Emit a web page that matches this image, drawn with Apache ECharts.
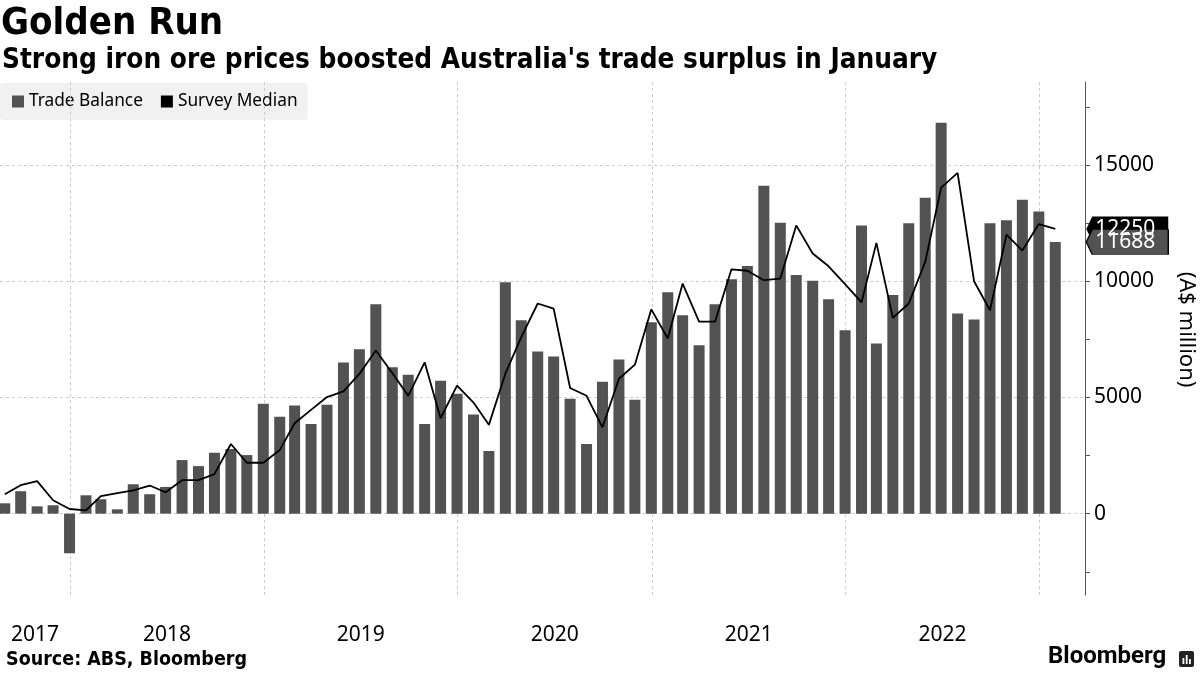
<!DOCTYPE html>
<html><head><meta charset="utf-8">
<script src="https://cdn.jsdelivr.net/npm/echarts@6/dist/echarts.min.js"></script>
<style>html,body{margin:0;padding:0;background:#fff}#c{width:1200px;height:675px}</style>
</head><body><div id="c"></div>
<script>
// Monthly periods (Aug 2017 – Jan 2023)
const months = [
  '2017-08','2017-09','2017-10','2017-11','2017-12',
  '2018-01','2018-02','2018-03','2018-04','2018-05','2018-06','2018-07','2018-08','2018-09','2018-10','2018-11','2018-12',
  '2019-01','2019-02','2019-03','2019-04','2019-05','2019-06','2019-07','2019-08','2019-09','2019-10','2019-11','2019-12',
  '2020-01','2020-02','2020-03','2020-04','2020-05','2020-06','2020-07','2020-08','2020-09','2020-10','2020-11','2020-12',
  '2021-01','2021-02','2021-03','2021-04','2021-05','2021-06','2021-07','2021-08','2021-09','2021-10','2021-11','2021-12',
  '2022-01','2022-02','2022-03','2022-04','2022-05','2022-06','2022-07','2022-08','2022-09','2022-10','2022-11','2022-12',
  '2023-01'
];
const tradeBalance = [
  445, 965, 315, 360, -1705,
  790, 620, 185, 1265, 835, 1150, 2305, 2045, 2620, 2780, 2520, 4725,
  4165, 4650, 3860, 4680, 6500, 7075, 9005, 6300, 5980, 3860, 5720, 5160,
  4265, 2695, 9960, 8315, 6975, 6760, 4940, 2995, 5675, 6630, 4900, 8230,
  9525, 8530, 7240, 9005, 10085, 10655, 14110, 12520, 10270, 10015, 9220, 7895,
  12400, 7320, 9410, 12490, 13590, 16820, 8615, 8355, 12490, 12620, 13505, 13000,
  11688
];
const surveyMedian = [
  835, 1225, 1400, 575, 200,
  145, 750, 880, 1005, 1210, 920, 1440, 1440, 1700, 2995, 2190, 2190,
  2735, 3890, 4465, 5015, 5260, 6010, 7015, 6050, 5070, 6510, 4105, 5505,
  4780, 3820, 6020, 7590, 9040, 8820, 5405, 5070, 3715, 5805, 6410, 8790,
  7535, 9900, 8260, 8260, 10510, 10450, 10045, 10115, 12400, 11190, 10640, 9870,
  9090, 11650, 8420, 9040, 10830, 14025, 14660, 10000, 8750, 12000, 11320, 12460,
  12250
];
const yearLabels = ['2017','2018','2019','2020','2021','2022'];
const yearStarts = ['2018-01-01','2019-01-01','2020-01-01','2021-01-01','2022-01-01','2023-01-01'];
const yLabelValues = [0, 5000, 10000, 15000];
const yTickValues = [-2500, 0, 2500, 5000, 7500, 10000, 12500, 15000, 17500];
const xMinDate = '2017-08-22';
const xMaxDate = '2023-03-28';

function ts(s) {
  const [y, m, d] = s.split('-').map(Number);
  return new Date(y, m - 1, d).getTime();
}
function monthEnd(m) {
  const [y, mo] = m.split('-').map(Number);
  return new Date(y, mo, 0).getTime();
}
const xMin = ts(xMinDate), xMax = ts(xMaxDate);
const times = months.map(monthEnd);
const barData = times.map((t, i) => [t, tradeBalance[i]]);
const lineData = times.map((t, i) => [t, surveyMedian[i]]);
const yearStartTs = yearStarts.map(ts);

// year label positions: middle of the visible part of each year
const yearLabelPos = yearLabels.map(y => {
  const start = Math.max(ts(y + '-01-01'), xMin);
  const end = ts((+y + 1) + '-01-01');
  return (start + end) / 2;
});

const lastT = times[times.length - 1];
const lastTrade = tradeBalance[tradeBalance.length - 1];
const lastSurvey = surveyMedian[surveyMedian.length - 1];

const tagPath = 'path://M0,12.5 L6,0 L82,0 L82,25 L6,25 Z';
const FONT = 'Noto Sans';
const gridColor = '#cccccc';

const chart = echarts.init(document.getElementById('c'), null, {renderer: 'canvas'});
chart.setOption({
  animation: false,
  backgroundColor: '#ffffff',
  grid: {left: 0, right: 115, top: 82, bottom: 80, containLabel: false, outerBoundsMode: 'none'},
  legend: {
    left: 0, top: 83, z: -1,
    backgroundColor: '#f1f1f1', borderRadius: 3,
    padding: [10, 10, 10, 12],
    itemWidth: 12, itemHeight: 12, itemGap: 18, icon: 'rect',
    textStyle: {fontFamily: FONT, fontSize: 17.3, color: '#000'},
    data: ['Trade Balance', 'Survey Median']
  },
  xAxis: {
    type: 'value', min: xMin, max: xMax, scale: true,
    axisLine: {show: false},
    axisTick: {show: false, customValues: yearStartTs},
    splitLine: {show: true, lineStyle: {color: gridColor, width: 1, type: [3, 3]}},
    axisLabel: {
      customValues: yearLabelPos,
      formatter: v => String(new Date(v).getFullYear()),
      margin: 30, fontSize: 21, color: '#000', fontFamily: FONT
    }
  },
  yAxis: [{
    type: 'value', position: 'right', min: -3500, max: 18570,
    axisLine: {show: true, lineStyle: {color: '#555', width: 1}},
    axisTick: {show: true, length: 5, lineStyle: {color: '#555'}, customValues: yTickValues},
    axisLabel: {customValues: yLabelValues, margin: 9, color: '#000', fontSize: 21, fontFamily: FONT,
      formatter: v => String(v)},
    splitLine: {show: false},
    name: '(A$ million)', nameLocation: 'middle', nameRotate: -90, nameGap: 90,
    nameTextStyle: {fontSize: 22, color: '#000', fontFamily: FONT, padding: [0, 18, 0, 0]}
  }, {
    type: 'value', position: 'right', min: -3500, max: 18570,
    axisLine: {show: false},
    axisTick: {show: false, customValues: yLabelValues},
    axisLabel: {show: false},
    splitLine: {show: true, lineStyle: {color: gridColor, width: 1, type: [3, 3]}}
  }],
  series: [{
    name: 'Trade Balance', type: 'bar', data: barData, barWidth: 11,
    itemStyle: {color: '#525252'}
  }, {
    name: 'Survey Median', type: 'line', data: lineData,
    symbol: 'none', lineStyle: {color: '#000', width: 1.8}, itemStyle: {color: '#000'},
    z: 3,
    markPoint: {
      z: 10,
      symbol: tagPath, symbolSize: [82, 25], symbolKeepAspect: false,
      symbolOffset: [72, 0],
      label: {show: true, position: 'inside', color: '#fff', fontSize: 21, fontFamily: FONT, offset: [-2, 0], formatter: p => String(p.value)},
      data: [
        {coord: [lastT, lastSurvey], value: lastSurvey, itemStyle: {color: '#000'}},
        {coord: [lastT, lastTrade], value: lastTrade, itemStyle: {color: '#525252', borderColor: '#000', borderWidth: 0.8}}
      ]
    }
  }],
  graphic: [
    {type: 'text', left: 1, top: 5, style: {text: 'Golden Run', font: 'bold 38px "DejaVu Sans Condensed"', fill: '#000'}},
    {type: 'text', left: 2, top: 47, style: {text: "Strong iron ore prices boosted Australia's trade surplus in January", font: 'bold 27.7px "DejaVu Sans Condensed"', fill: '#000'}},
    {type: 'text', left: 6, top: 650, style: {text: 'Source: ABS, Bloomberg', font: 'bold 19.5px "DejaVu Sans Condensed"', fill: '#000'}},
    {type: 'text', left: 1048, top: 645, style: {text: 'Bloomberg', font: 'bold 24px Roboto', fill: '#000'}},
    {type: 'rect', shape: {x: 1179, y: 651, width: 15, height: 16, r: 2}, style: {fill: '#222'}},
    {type: 'rect', shape: {x: 1182.5, y: 658, width: 1.8, height: 6}, style: {fill: '#fff'}},
    {type: 'rect', shape: {x: 1185.8, y: 655, width: 1.8, height: 9}, style: {fill: '#fff'}},
    {type: 'rect', shape: {x: 1189, y: 659, width: 1.8, height: 5}, style: {fill: '#fff'}}
  ]
});
</script></body></html>
